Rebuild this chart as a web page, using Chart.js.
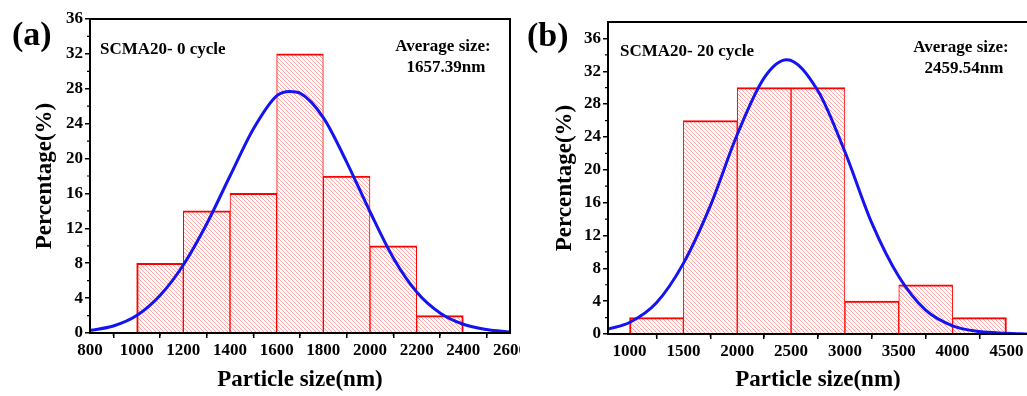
<!DOCTYPE html>
<html>
<head>
<meta charset="utf-8">
<script src="https://cdn.jsdelivr.net/npm/chart.js@4"></script>
<style>
html,body{margin:0;padding:0;background:#fff;overflow:hidden}
.panel{position:absolute;top:0;height:396px;overflow:hidden}
#pa{left:0;width:520px}
#pb{left:520px;width:507px}
canvas{display:block}
</style>
</head>
<body>
<div class="panel" id="pa"><canvas id="chartA" width="560" height="396"></canvas></div>
<div class="panel" id="pb"><canvas id="chartB" width="560" height="396"></canvas></div>
<script>
const F = 'Liberation Serif'

// panel (a): 0 cycle
const binCenterA = [1100,1300,1500,1700,1900,2100,2300]
const percentA = [8,14,16,32,18,10,2]
const fitXA = [800,900,1000,1100,1200,1300,1400,1500,1600,1657,1700,1800,1900,2000,2100,2200,2300,2400,2500,2600]
const fitYA = [0.3,0.8,2.0,4.3,7.8,12.5,18.0,23.4,27.2,27.7,27.5,24.7,19.6,13.9,8.6,4.7,2.3,1.0,0.4,0.1]
const xTicksA = [800,1000,1200,1400,1600,1800,2000,2200,2400,2600]
const yTicksA = [0,4,8,12,16,20,24,28,32,36]

// panel (b): 20 cycle
const binCenterB = [1250,1750,2250,2750,3250,3750,4250]
const percentB = [2,26,30,30,4,6,2]
const fitXB = [800,1000,1250,1500,1750,2000,2250,2460,2750,3000,3250,3500,3750,4000,4250,4500,4700]
const fitYB = [0.6,1.4,3.8,8.6,15.6,24.3,31.2,33.4,29.6,22.2,13.5,7.0,2.9,1.0,0.3,0.1,0.0]
const xTicksB = [1000,1500,2000,2500,3000,3500,4000,4500]
const yTicksB = [0,4,8,12,16,20,24,28,32,36]

function hatch(ctx){
const c = document.createElement('canvas')
c.width = 4; c.height = 4
const g = c.getContext('2d')
g.fillStyle = '#fff'
g.fillRect(0,0,4,4)
g.strokeStyle = 'rgba(255,60,60,0.45)'
g.lineWidth = 1
g.beginPath()
g.moveTo(-1,-1); g.lineTo(5,5)
g.moveTo(-1,3); g.lineTo(1,5)
g.moveTo(3,-1); g.lineTo(5,1)
g.stroke()
return ctx.createPattern(c,'repeat')
}

function mids(arr){
let out = []
for(let i=0;i<arr.length-1;i++) out.push((arr[i]+arr[i+1])/2)
return out
}

function makeChart(id, o){

const el = document.getElementById(id)
const ctx = el.getContext('2d')
const last = o.bars.length-1

const deco = {
id:'deco',
afterDraw(ch){
const c = ch.ctx, ca = ch.chartArea, sx = ch.scales.x, sy = ch.scales.y
c.save()
// frame
c.strokeStyle = '#000'
c.lineWidth = 2
c.strokeRect(ca.left, ca.top, ca.right-ca.left, ca.bottom-ca.top)
// minor ticks
c.lineWidth = 1.2
c.beginPath()
o.xMinor.forEach(v=>{
const p = sx.getPixelForValue(v)
if(p>ca.left && p<ca.right){ c.moveTo(p,ca.bottom); c.lineTo(p,ca.bottom+3) }
})
o.yMinor.forEach(v=>{
const p = sy.getPixelForValue(v)
if(p>ca.top && p<ca.bottom){ c.moveTo(ca.left,p); c.lineTo(ca.left-3,p) }
})
c.stroke()
// texts
c.fillStyle = '#000'
c.textBaseline = 'middle'
c.textAlign = 'left'
c.font = 'bold 34px "'+F+'"'
c.fillText(o.panel, o.panelX, o.panelY)
c.font = 'bold 17px "'+F+'"'
c.fillText(o.sample, 100, o.sampleY)
c.textAlign = 'center'
c.fillText('Average size:', o.avgX, o.avgY)
c.fillText(o.avg, o.avgX+3, o.avgY+21)
c.font = 'bold 23px "'+F+'"'
c.fillText('Particle size(nm)', (ca.left+ca.right)/2, 380)
c.translate(45,(ca.top+ca.bottom)/2)
c.rotate(-Math.PI/2)
c.fillText('Percentage(%)', 0, 0)
c.restore()
}
}

const tickFont = {family:F, size:17, weight:'bold'}

return new Chart(ctx,{
data:{
datasets:[
{
type:'line',
order:0,
data:o.fitX.map((x,i)=>({x:x,y:o.fitY[i]})),
borderColor:'#1414f0',
borderWidth:3,
pointRadius:0,
cubicInterpolationMode:'monotone',
fill:false
},
{
type:'bar',
order:1,
data:o.bars.map((x,i)=>({x:x,y:o.vals[i]})),
backgroundColor:hatch(ctx),
borderColor:'#ff0000',
borderWidth:c=>({top:2,bottom:0,left:c.dataIndex===0?2:1,right:c.dataIndex===last?2:1}),
borderSkipped:false,
barPercentage:1,
categoryPercentage:1
}
]
},
options:{
responsive:false,
animation:false,
layout:{padding:{left:0,top:o.top,right:o.right,bottom:0}},
plugins:{legend:{display:false},tooltip:{enabled:false}},
scales:{
x:{
type:'linear',
min:o.xMin,
max:o.xMax,
offset:false,
afterBuildTicks:s=>{s.ticks=o.xTicks.map(v=>({value:v}))},
afterFit:s=>{s.height=o.xH},
grid:{drawOnChartArea:false,color:'#000',lineWidth:1.5,tickLength:5},
border:{color:'#000',width:2},
ticks:{color:'#000',font:tickFont,padding:2,maxRotation:0,autoSkip:false,callback:v=>String(v)}
},
y:{
min:0,
max:o.yMax,
afterBuildTicks:s=>{s.ticks=o.yTicks.map(v=>({value:v}))},
afterFit:s=>{s.width=o.yW},
grid:{drawOnChartArea:false,color:'#000',lineWidth:1.5,tickLength:5},
border:{color:'#000',width:2},
ticks:{color:'#000',font:tickFont,padding:2,callback:v=>String(v)}
}
}
},
plugins:[deco]
})

}

makeChart('chartA',{
bars:binCenterA, vals:percentA, fitX:fitXA, fitY:fitYA,
xTicks:xTicksA, yTicks:yTicksA, xMinor:mids(xTicksA), yMinor:mids(yTicksA),
xMin:800, xMax:2600, yMax:36,
top:19, right:50, xH:63, yW:90,
panel:'(a)', panelX:12, panelY:36,
sample:'SCMA20- 0 cycle', sampleY:50,
avg:'1657.39nm', avgX:443, avgY:47
})

makeChart('chartB',{
bars:binCenterB, vals:percentB, fitX:fitXB, fitY:fitYB,
xTicks:xTicksB, yTicks:yTicksB, xMinor:[750].concat(mids(xTicksB),[4750]), yMinor:mids(yTicksB).concat([38]),
xMin:800, xMax:4700, yMax:38,
top:22, right:52, xH:62, yW:88,
panel:'(b)', panelX:7, panelY:37,
sample:'SCMA20- 20 cycle', sampleY:52,
avg:'2459.54nm', avgX:441, avgY:48
})
</script>
</body>
</html>
